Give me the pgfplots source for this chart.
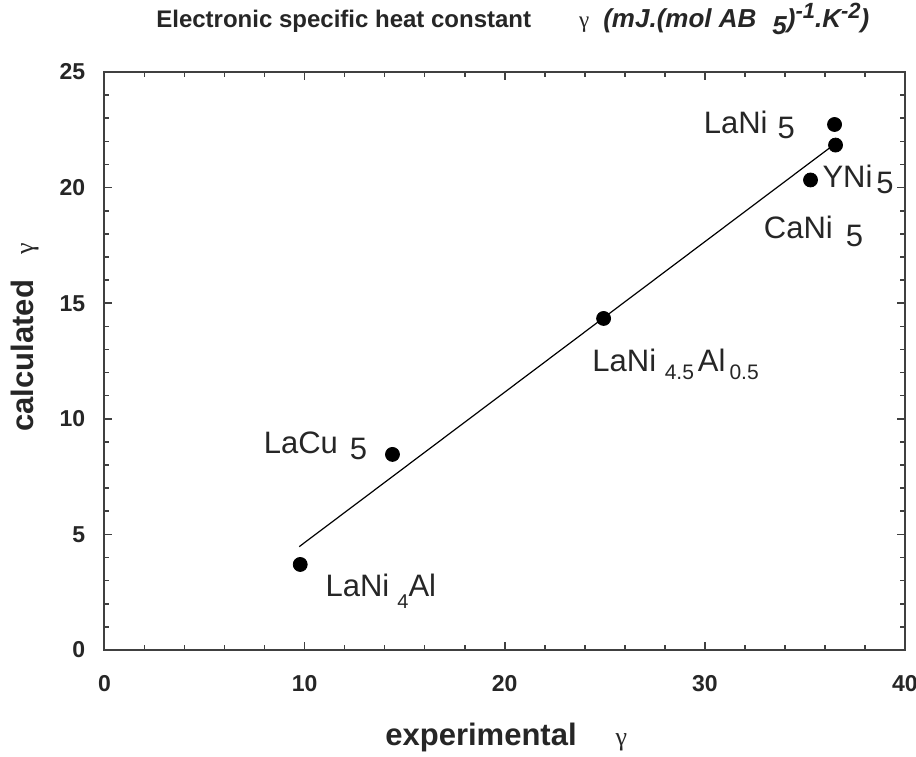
\documentclass[border=0pt]{standalone}
\usepackage{fontspec}
\setmainfont{Liberation Sans}
\newfontfamily\gk{Liberation Serif}
\usepackage{pgfplots}
\pgfplotsset{compat=1.18}
\begin{document}
\begin{tikzpicture}
\useasboundingbox (-52.25pt,-53pt) rectangle (405.75pt,325pt);
\tikzset{lbl/.style={anchor=base west, inner sep=0pt, font=\fontsize{15.5}{18}\selectfont, text=black!85}}
\begin{axis}[
  at={(0pt,0pt)}, anchor=south west,
  scale only axis, width=400.25pt, height=289pt,
  xmin=0, xmax=40, ymin=0, ymax=25,
  xtick={0,10,20,30,40}, ytick={0,5,10,15,20,25},
  minor x tick num=4, minor y tick num=4,
  tick align=inside, xtick pos=both, ytick pos=both,
  xticklabel pos=lower, yticklabel pos=left,
  major tick length=4pt, minor tick length=2.5pt,
  axis line style={black!75, line width=1pt},
  every tick/.style={black!75, line width=0.8pt},
  /pgf/number format/assume math mode=true,
  ticklabel style={font=\bfseries\fontsize{11.5}{13}\selectfont, inner sep=0pt, text=black!85},
  xticklabel style={anchor=base, yshift=-20.5pt},
  yticklabel style={anchor=east, xshift=-9.5pt},
  xlabel={experimental\hspace{19.5pt}{\gk\mdseries\fontsize{13}{14}\selectfont γ}},
  xlabel style={at={(rel axis cs:0.3504,-0.1644)}, anchor=base west, inner sep=0pt, font=\bfseries\fontsize{15.5}{18}\selectfont, text=black!85},
  ylabel={calculated\hspace{12.5pt}{\gk\mdseries\fontsize{13}{14}\selectfont γ}},
  ylabel style={at={(rel axis cs:-0.0893,0.3772)}, anchor=base west, inner sep=0pt, font=\bfseries\fontsize{15.5}{18}\selectfont, text=black!85},
  title={Electronic specific heat constant\hspace{24pt}{\gk\mdseries\fontsize{11.5}{12}\selectfont γ}\hspace{7pt}{\fontsize{13}{14}\selectfont\itshape (mJ.(mol AB\hspace{8pt}\raisebox{-3.5pt}{5})\raisebox{4.5pt}{\fontsize{11}{12}\selectfont -1}.K\raisebox{4.5pt}{\fontsize{11}{12}\selectfont -2})}},
  title style={at={(rel axis cs:0.0643,1.0554)}, anchor=base west, inner sep=0pt, font=\bfseries\fontsize{12}{14}\selectfont, text=black!85},
  clip=false,
]
\addplot[black, line width=0.6pt, no marks] coordinates {(9.73,4.47) (36.3,21.76)};
\addplot[only marks, mark=*, mark size=3.5pt, black] coordinates {
  (9.78,3.70) (14.39,8.46) (24.94,14.34) (35.28,20.33) (36.53,21.84) (36.48,22.73)
};
\node[lbl] at (axis cs:29.93,22.36) {LaNi\hspace{5pt}\raisebox{-2.5pt}{5}};
\node[lbl] at (axis cs:35.86,20.01) {YNi\hspace{2pt}\raisebox{-3.3pt}{5}};
\node[lbl] at (axis cs:32.93,17.81) {CaNi\hspace{6.5pt}\raisebox{-4pt}{5}};
\node[lbl] at (axis cs:7.94,8.51) {LaCu\hspace{6pt}\raisebox{-3.3pt}{5}};
\node[lbl] at (axis cs:11.03,2.31) {LaNi\hspace{4pt}\raisebox{-5.8pt}{\fontsize{10}{12}\selectfont 4}Al};
\node[lbl] at (axis cs:24.36,12.04) {LaNi\hspace{4.3pt}\raisebox{-4pt}{\fontsize{10.5}{12}\selectfont 4.5}\hspace{2pt}Al\hspace{2pt}\raisebox{-4pt}{\fontsize{10.5}{12}\selectfont 0.5}};
\end{axis}
\end{tikzpicture}
\end{document}
